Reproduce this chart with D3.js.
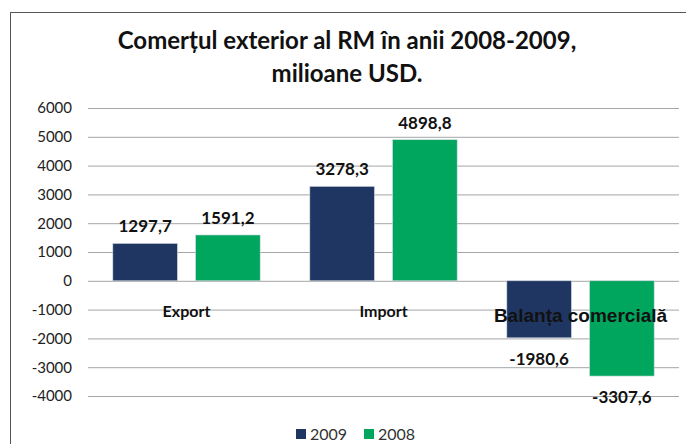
<!DOCTYPE html>
<html>
<head>
<meta charset="utf-8">
<script src="https://cdn.jsdelivr.net/npm/d3@7"></script>
<style>
    body { margin: 0; background: #fff; }
    text { font-family: Lato, "Open Sans", sans-serif; }
</style>
</head>
<body>
<svg class="chart"></svg>
<script>
(function () {
    const categories = ["Export", "Import", "Balanța comercială"];
    const series = ["2009", "2008"];
    const values2009 = [1297.7, 3278.3, -1980.6];
    const values2008 = [1591.2, 4898.8, -3307.6];
    const valueLabels2009 = ["1297,7", "3278,3", "-1980,6"];
    const valueLabels2008 = ["1591,2", "4898,8", "-3307,6"];
    const yTicks = [-4000, -3000, -2000, -1000, 0, 1000, 2000, 3000, 4000, 5000, 6000];

    const width = 686;
    const height = 444;
    const colours = ["#1f3662", "#00a65d"];

    const margin = { left: 88, top: 108, right: 7, bottom: 48 };

    let svg = d3.select("svg.chart")
        .attr("width", width)
        .attr("height", height);

    // chart frame (runs off the right and bottom edge)
    svg.append("rect")
        .attr("x", 10.5).attr("y", 12.5)
        .attr("width", 700).attr("height", 460)
        .attr("fill", "none")
        .attr("stroke", "#555");

    let x = d3.scaleBand()
        .domain(categories)
        .range([margin.left, width - margin.right]);

    let x1 = d3.scaleBand()
        .domain(series)
        .range([0, x.bandwidth()])
        .paddingInner(0.22)
        .paddingOuter(0.3);

    let y = d3.scaleLinear()
        .domain([-4000, 6000])
        .range([396, margin.top]);

    let color = d3.scaleOrdinal().domain(series).range(colours);

    // gridlines + tick labels
    let yAxis = d3.axisLeft(y)
        .tickValues(yTicks)
        .tickSize(-(width - margin.right - margin.left))
        .tickPadding(16)
        .tickFormat(function (d) { return String(d); });

    let axisG = svg.append("g")
        .attr("transform", "translate(" + margin.left + ",0)")
        .call(yAxis);
    axisG.select(".domain").remove();
    axisG.selectAll(".tick line").attr("stroke", "#a6a6a6");
    axisG.selectAll(".tick text")
        .attr("fill", "#222")
        .style("font-size", "15px")
        .style("font-family", "Lato, sans-serif");

    // title
    svg.append("text")
        .attr("x", 347).attr("y", 49)
        .attr("text-anchor", "middle")
        .style("font-size", "24px").style("font-weight", "bold")
        .attr("fill", "#111")
        .text("Comerțul exterior al RM în anii 2008-2009,");
    svg.append("text")
        .attr("x", 347).attr("y", 82)
        .attr("text-anchor", "middle")
        .style("font-size", "24px").style("font-weight", "bold")
        .attr("fill", "#111")
        .text("milioane USD.");

    let rows = categories.map(function (c, i) {
        return [
            { cat: c, s: "2009", v: values2009[i], label: valueLabels2009[i] },
            { cat: c, s: "2008", v: values2008[i], label: valueLabels2008[i] }
        ];
    });

    let groups = svg.selectAll("g.group")
        .data(rows)
        .enter().append("g")
        .attr("class", "group")
        .attr("transform", function (d) { return "translate(" + x(d[0].cat) + ",0)"; });

    groups.selectAll("rect")
        .data(function (d) { return d; })
        .enter().append("rect")
        .attr("x", function (d) { return x1(d.s); })
        .attr("width", x1.bandwidth())
        .attr("y", function (d) { return y(Math.max(0, d.v)); })
        .attr("height", function (d) { return Math.abs(y(d.v) - y(0)); })
        .attr("fill", function (d) { return color(d.s); })
        .attr("stroke", "#d0d8e0")
        .attr("stroke-width", 0.6);

    // category labels (drawn after the bars)
    svg.selectAll("text.cat")
        .data(categories)
        .enter().append("text")
        .attr("class", "cat")
        .attr("x", function (d) { return x(d) + x.bandwidth() / 2; })
        .attr("y", function (d, i) { return i == 2 ? 322 : 317; })
        .attr("text-anchor", "middle")
        .attr("fill", "#111")
        .style("font-weight", "bold")
        .style("font-size", function (d, i) { return i == 2 ? "19px" : "16px"; })
        .style("font-family", function (d, i) { return i == 2 ? "'Liberation Sans', Arial, sans-serif" : null; })
        .text(function (d) { return d; });

    // value labels
    groups.selectAll("text.val")
        .data(function (d) { return d; })
        .enter().append("text")
        .attr("class", "val")
        .attr("x", function (d) { return x1(d.s) + x1.bandwidth() / 2; })
        .attr("y", function (d) { return d.v >= 0 ? y(d.v) - 11 : y(d.v) + 27; })
        .attr("text-anchor", "middle")
        .attr("fill", "#111")
        .style("font-weight", "bold")
        .style("font-size", "17px")
        .text(function (d) { return d.label; });

    // legend
    let legend = svg.append("g").attr("class", "legend");
    let legendX = [296, 364];
    series.forEach(function (s, i) {
        legend.append("rect")
            .attr("x", legendX[i]).attr("y", 429)
            .attr("width", 10).attr("height", 10)
            .attr("fill", color(s));
        legend.append("text")
            .attr("x", legendX[i] + 14).attr("y", 440)
            .attr("fill", "#333")
            .style("font-size", "16px")
            .text(s);
    });
}());
</script>
</body>
</html>
